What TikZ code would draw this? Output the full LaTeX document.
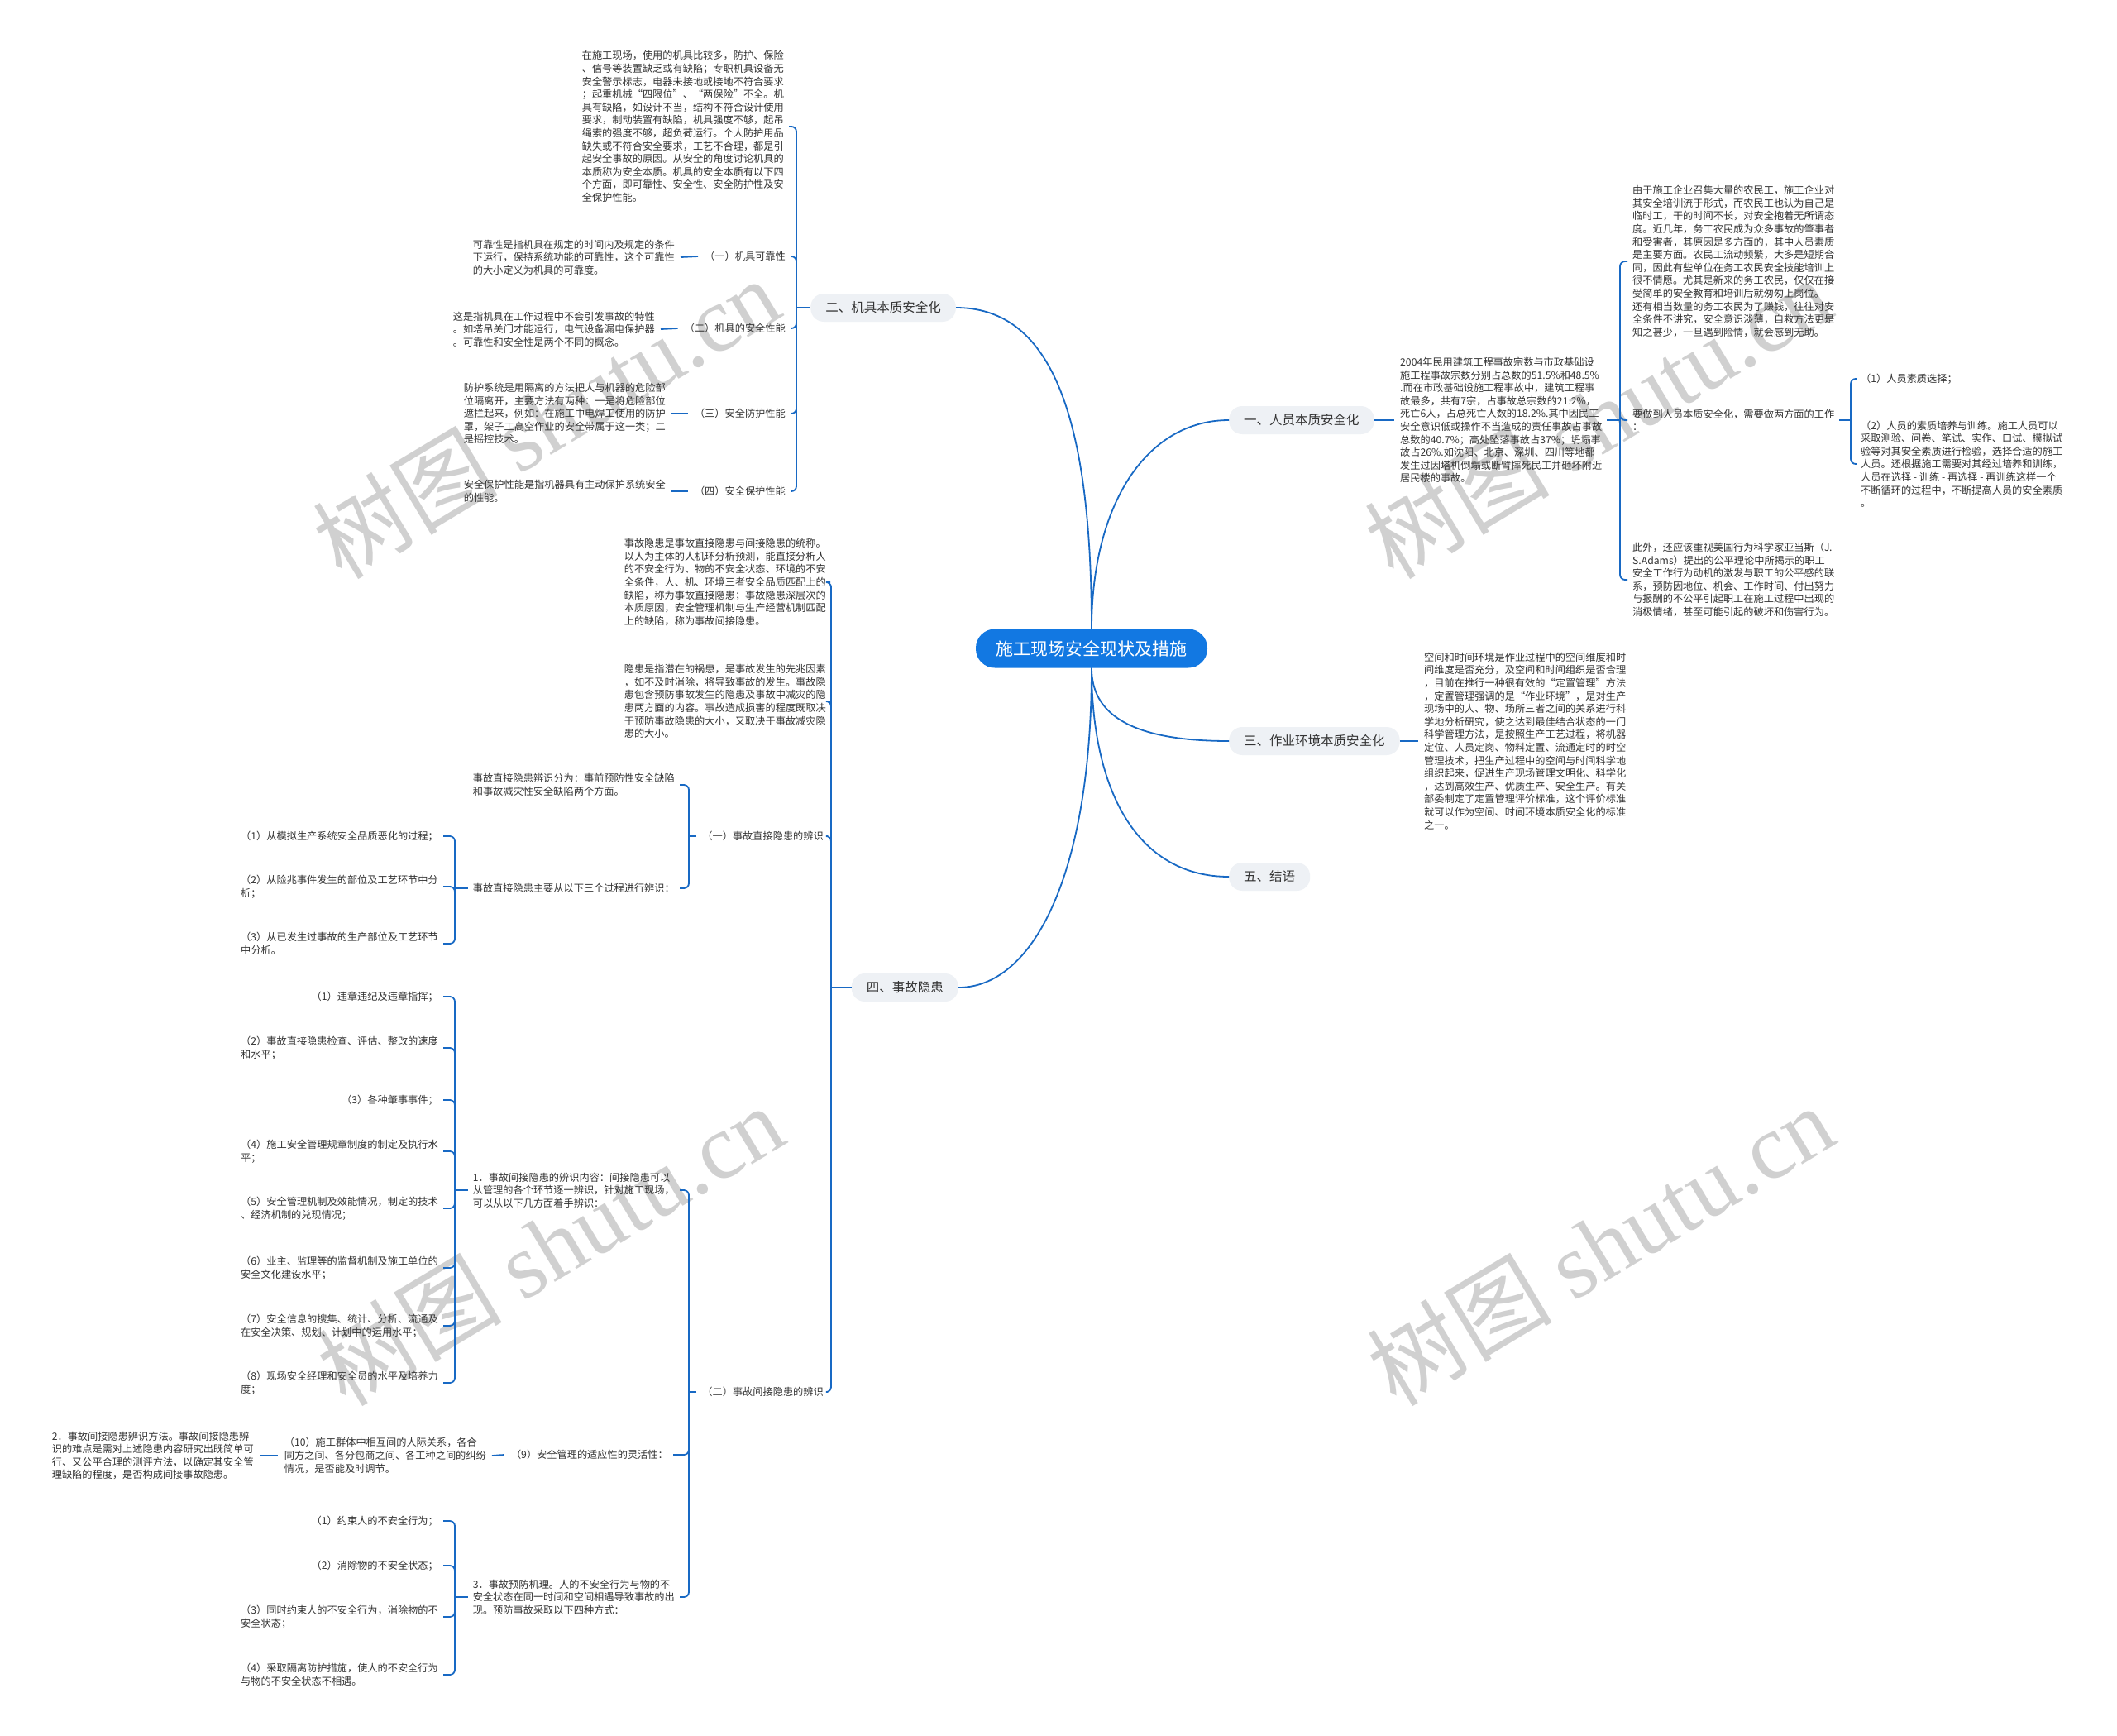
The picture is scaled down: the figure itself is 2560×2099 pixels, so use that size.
\documentclass[tikz,border=0pt]{standalone}
\usepackage{fontspec}
\setmainfont{Noto Sans CJK SC}
\newfontfamily\wmlatin{Liberation Serif}
\usetikzlibrary{calc}
\definecolor{lineblue}{RGB}{24,105,196}
\definecolor{rootblue}{RGB}{18,120,226}
\definecolor{branchgray}{RGB}{238,241,245}
\definecolor{txtgray}{RGB}{51,51,51}
\definecolor{wmgray}{RGB}{208,208,208}
\begin{document}
\begin{tikzpicture}[x=1pt,y=-1pt,
  conn/.style={draw=lineblue,line width=1.8pt},
  brk/.style={conn,rounded corners=6pt},
  txt/.style={font=\fontsize{12.2}{15.6}\selectfont,text=txtgray,align=left,inner sep=0pt},
  branch/.style={font=\fontsize{15.5}{18}\selectfont,text=txtgray,fill=branchgray,rounded corners=16pt,minimum height=34pt,inner xsep=18pt,inner ysep=0pt},
  rootnode/.style={font=\fontsize{21}{24}\selectfont,text=white,fill=rootblue,rounded corners=23pt,minimum height=47pt,minimum width=280pt,inner sep=0pt},
  wm/.style={text=wmgray,rotate=31,inner sep=0pt,font=\fontsize{112}{112}\selectfont}
]
\fill[white] (0,0) rectangle (2560,2099);
\useasboundingbox (0,0) rectangle (2560,2099);

% watermarks
\node[wm] (w1) at (660,505) {树图 {\wmlatin shutu.cn}};
\node[wm] (w2) at (1932,505) {树图 {\wmlatin shutu.cn}};
\node[wm] (w3) at (665,1505) {树图 {\wmlatin shutu.cn}};
\node[wm] (w4) at (1935,1505) {树图 {\wmlatin shutu.cn}};

% root and branches
\node[rootnode] (root) at (1320,784) {施工现场安全现状及措施};
\node[branch,anchor=west] (b1) at (1486,508) {一、人员本质安全化};
\node[branch,anchor=east] (b2) at (1156,372) {二、机具本质安全化};
\node[branch,anchor=west] (b3) at (1486,896) {三、作业环境本质安全化};
\node[branch,anchor=east] (b4) at (1159,1194) {四、事故隐患};
\node[branch,anchor=west] (b5) at (1486,1060) {五、结语};

\draw[conn] (root.north) .. controls +(0,-270) and +(110,0) .. (b2.east);
\draw[conn] (root.north) .. controls +(0,-150) and +(-100,0) .. (b1.west);
\draw[conn] (root.south) .. controls +(0,55) and +(-120,0) .. (b3.west);
\draw[conn] (root.south) .. controls +(0,150) and +(-110,0) .. (b5.west);
\draw[conn] (root.south) .. controls +(0,250) and +(90,0) .. (b4.east);

% ===== 二 =====
\node[txt,anchor=east] (m0) at (948,153) {在施工现场，使用的机具比较多，防护、保险\\、信号等装置缺乏或有缺陷；专职机具设备无\\安全警示标志，电器未接地或接地不符合要求\\；起重机械“四限位”、“两保险”不全。机\\具有缺陷，如设计不当，结构不符合设计使用\\要求，制动装置有缺陷，机具强度不够，起吊\\绳索的强度不够，超负荷运行。个人防护用品\\缺失或不符合安全要求，工艺不合理，都是引\\起安全事故的原因。从安全的角度讨论机具的\\本质称为安全本质。机具的安全本质有以下四\\个方面，即可靠性、安全性、安全防护性及安\\全保护性能。};
\node[txt,anchor=east] (m1) at (950,310) {（一）机具可靠性};
\node[txt,anchor=east] (m2) at (950,397) {（二）机具的安全性能};
\node[txt,anchor=east] (m3) at (950,500) {（三）安全防护性能};
\node[txt,anchor=east] (m4) at (950,594) {（四）安全保护性能};
\node[txt,anchor=east] (m1p) at (816,311) {可靠性是指机具在规定的时间内及规定的条件\\下运行，保持系统功能的可靠性，这个可靠性\\的大小定义为机具的可靠度。};
\node[txt,anchor=east] (m2p) at (792,398) {这是指机具在工作过程中不会引发事故的特性\\。如塔吊关门才能运行，电气设备漏电保护器\\。可靠性和安全性是两个不同的概念。};
\node[txt,anchor=east] (m3p) at (805,500) {防护系统是用隔离的方法把人与机器的危险部\\位隔离开，主要方法有两种：一是将危险部位\\遮拦起来，例如：在施工中电焊工使用的防护\\罩，架子工高空作业的安全带属于这一类；二\\是摇控技术。};
\node[txt,anchor=east] (m4p) at (805,594) {安全保护性能是指机器具有主动保护系统安全\\的性能。};

\coordinate (j2) at (963,372);
\draw[conn] (b2.west) -- (j2);
\foreach \c in {m0,m1,m2,m3,m4} \draw[brk] (j2) |- ([xshift=6pt]\c.east);
\foreach \a/\b in {m1/m1p,m2/m2p,m3/m3p,m4/m4p} \draw[conn] ([xshift=-8pt]\a.west) -- ([xshift=7pt]\b.east);

% ===== 一 =====
\node[txt,anchor=west] (r1) at (1693,508) {2004年民用建筑工程事故宗数与市政基础设\\施工程事故宗数分别占总数的51.5\%和48.5\%\\.而在市政基础设施工程事故中，建筑工程事\\故最多，共有7宗，占事故总宗数的21.2\%，\\死亡6人，占总死亡人数的18.2\%.其中因民工\\安全意识低或操作不当造成的责任事故占事故\\总数的40.7\%；高处坠落事故占37\%；坍塌事\\故占26\%.如沈阳、北京、深圳、四川等地都\\发生过因塔机倒塌或断臂摔死民工并砸坏附近\\居民楼的事故。};
\node[txt,anchor=west] (r1a) at (1974,316) {由于施工企业召集大量的农民工，施工企业对\\其安全培训流于形式，而农民工也认为自己是\\临时工，干的时间不长，对安全抱着无所谓态\\度。近几年，务工农民成为众多事故的肇事者\\和受害者，其原因是多方面的，其中人员素质\\是主要方面。农民工流动频繁，大多是短期合\\同，因此有些单位在务工农民安全技能培训上\\很不情愿。尤其是新来的务工农民，仅仅在接\\受简单的安全教育和培训后就匆匆上岗位。\\还有相当数量的务工农民为了赚钱，往往对安\\全条件不讲究，安全意识淡薄，自救方法更是\\知之甚少，一旦遇到险情，就会感到无助。};
\node[txt,anchor=west] (r1b) at (1974,508) {要做到人员本质安全化，需要做两方面的工作\\：};
\node[txt,anchor=west] (r1c) at (1974,701) {此外，还应该重视美国行为科学家亚当斯（J.\\S.Adams）提出的公平理论中所揭示的职工\\安全工作行为动机的激发与职工的公平感的联\\系，预防因地位、机会、工作时间、付出努力\\与报酬的不公平引起职工在施工过程中出现的\\消极情绪，甚至可能引起的破坏和伤害行为。};
\node[txt,anchor=west] (r1b1) at (2250,458) {（1）人员素质选择；};
\node[txt,anchor=west] (r1b2) at (2250,561) {（2）人员的素质培养与训练。施工人员可以\\采取测验、问卷、笔试、实作、口试、模拟试\\验等对其安全素质进行检验，选择合适的施工\\人员。还根据施工需要对其经过培养和训练，\\人员在选择 - 训练 - 再选择 - 再训练这样一个\\不断循环的过程中，不断提高人员的安全素质\\。};

\draw[conn] (b1.east) -- ([xshift=-7pt]r1.west);
\coordinate (j1) at (1959,508);
\draw[conn] ([xshift=6pt]r1.east) -- (j1);
\foreach \c in {r1a,r1b,r1c} \draw[brk] (j1) |- ([xshift=-6pt]\c.west);
\coordinate (jb) at (2238,508);
\draw[conn] ([xshift=6pt]r1b.east) -- (jb);
\foreach \c in {r1b1,r1b2} \draw[brk] (jb) |- ([xshift=-5pt]\c.west);

% ===== 三 =====
\node[txt,anchor=west] (r3) at (1722,896) {空间和时间环境是作业过程中的空间维度和时\\间维度是否充分，及空间和时间组织是否合理\\，目前在推行一种很有效的“定置管理”方法\\，定置管理强调的是“作业环境”，是对生产\\现场中的人、物、场所三者之间的关系进行科\\学地分析研究，使之达到最佳结合状态的一门\\科学管理方法，是按照生产工艺过程，将机器\\定位、人员定岗、物料定置、流通定时的时空\\管理技术，把生产过程中的空间与时间科学地\\组织起来，促进生产现场管理文明化、科学化\\，达到高效生产、优质生产、安全生产。有关\\部委制定了定置管理评价标准，这个评价标准\\就可以作为空间、时间环境本质安全化的标准\\之一。};
\draw[conn] (b3.east) -- ([xshift=-7pt]r3.west);

% ===== 四 =====
\node[txt,anchor=east] (f1) at (999,704) {事故隐患是事故直接隐患与间接隐患的统称。\\以人为主体的人机环分析预测，能直接分析人\\的不安全行为、物的不安全状态、环境的不安\\全条件，人、机、环境三者安全品质匹配上的\\缺陷，称为事故直接隐患；事故隐患深层次的\\本质原因，安全管理机制与生产经营机制匹配\\上的缺陷，称为事故间接隐患。};
\node[txt,anchor=east] (f2) at (999,848) {隐患是指潜在的祸患，是事故发生的先兆因素\\，如不及时消除，将导致事故的发生。事故隐\\患包含预防事故发生的隐患及事故中减灾的隐\\患两方面的内容。事故造成损害的程度既取决\\于预防事故隐患的大小，又取决于事故减灾隐\\患的大小。};
\node[txt,anchor=east] (f3) at (996,1011) {（一）事故直接隐患的辨识};
\node[txt,anchor=east] (f4) at (996,1683) {（二）事故间接隐患的辨识};
\coordinate (j4) at (1005,1194);
\draw[conn] (b4.west) -- (j4);
\foreach \c in {f1,f2,f3,f4} \draw[brk] (j4) |- ([xshift=5pt]\c.east);

% (一) direct
\node[txt,anchor=east] (g1) at (816,949) {事故直接隐患辨识分为：事前预防性安全缺陷\\和事故减灾性安全缺陷两个方面。};
\node[txt,anchor=east] (g2) at (816,1074) {事故直接隐患主要从以下三个过程进行辨识：};
\coordinate (j3) at (833,1011);
\draw[conn] ([xshift=-7pt]f3.west) -- (j3);
\foreach \c in {g1,g2} \draw[brk] (j3) |- ([xshift=6pt]\c.east);
\node[txt,anchor=east] (h1) at (530,1011) {（1）从模拟生产系统安全品质恶化的过程；};
\node[txt,anchor=east] (h2) at (530,1072) {（2）从险兆事件发生的部位及工艺环节中分\\析；};
\node[txt,anchor=east] (h3) at (530,1141) {（3）从已发生过事故的生产部位及工艺环节\\中分析。};
\coordinate (jg) at (550,1074);
\draw[conn] ([xshift=-6pt]g2.west) -- (jg);
\foreach \c in {h1,h2,h3} \draw[brk] (jg) |- ([xshift=6pt]\c.east);

% (二) indirect
\node[txt,anchor=east] (k1) at (816,1439) {1．事故间接隐患的辨识内容：间接隐患可以\\从管理的各个环节逐一辨识，针对施工现场，\\可以从以下几方面着手辨识：};
\node[txt,anchor=east] (k2) at (808,1759) {（9）安全管理的适应性的灵活性：};
\node[txt,anchor=east] (k3) at (816,1931) {3．事故预防机理。人的不安全行为与物的不\\安全状态在同一时间和空间相遇导致事故的出\\现。预防事故采取以下四种方式：};
\coordinate (jf) at (833,1683);
\draw[conn] ([xshift=-7pt]f4.west) -- (jf);
\foreach \c in {k1,k2,k3} \draw[brk] (jf) |- ([xshift=6pt]\c.east);

\node[txt,anchor=east] (n1) at (530,1205) {（1）违章违纪及违章指挥；};
\node[txt,anchor=east] (n2) at (530,1267) {（2）事故直接隐患检查、评估、整改的速度\\和水平；};
\node[txt,anchor=east] (n3) at (530,1330) {（3）各种肇事事件；};
\node[txt,anchor=east] (n4) at (530,1392) {（4）施工安全管理规章制度的制定及执行水\\平；};
\node[txt,anchor=east] (n5) at (530,1461) {（5）安全管理机制及效能情况，制定的技术\\、经济机制的兑现情况；};
\node[txt,anchor=east] (n6) at (530,1533) {（6）业主、监理等的监督机制及施工单位的\\安全文化建设水平；};
\node[txt,anchor=east] (n7) at (530,1603) {（7）安全信息的搜集、统计、分析、流通及\\在安全决策、规划、计划中的运用水平；};
\node[txt,anchor=east] (n8) at (530,1672) {（8）现场安全经理和安全员的水平及培养力\\度；};
\coordinate (jk1) at (550,1439);
\draw[conn] ([xshift=-6pt]k1.west) -- (jk1);
\foreach \c in {n1,n2,n3,n4,n5,n6,n7,n8} \draw[brk] (jk1) |- ([xshift=6pt]\c.east);

\node[txt,anchor=east] (k2a) at (588,1760) {（10）施工群体中相互间的人际关系，各合\\同方之间、各分包商之间、各工种之间的纠纷\\情况，是否能及时调节。};
\node[txt,anchor=east] (k2b) at (307,1760) {2．事故间接隐患辨识方法。事故间接隐患辨\\识的难点是需对上述隐患内容研究出既简单可\\行、又公平合理的测评方法，以确定其安全管\\理缺陷的程度，是否构成间接事故隐患。};
\draw[conn] ([xshift=-8pt]k2.west) -- ([xshift=7pt]k2a.east);
\draw[conn] ([xshift=-8pt]k2a.west) -- ([xshift=7pt]k2b.east);

\node[txt,anchor=east] (p1) at (530,1839) {（1）约束人的不安全行为；};
\node[txt,anchor=east] (p2) at (530,1893) {（2）消除物的不安全状态；};
\node[txt,anchor=east] (p3) at (530,1955) {（3）同时约束人的不安全行为，消除物的不\\安全状态；};
\node[txt,anchor=east] (p4) at (530,2025) {（4）采取隔离防护措施，使人的不安全行为\\与物的不安全状态不相遇。};
\coordinate (jk3) at (550,1931);
\draw[conn] ([xshift=-6pt]k3.west) -- (jk3);
\foreach \c in {p1,p2,p3,p4} \draw[brk] (jk3) |- ([xshift=6pt]\c.east);
\end{tikzpicture}
\end{document}
